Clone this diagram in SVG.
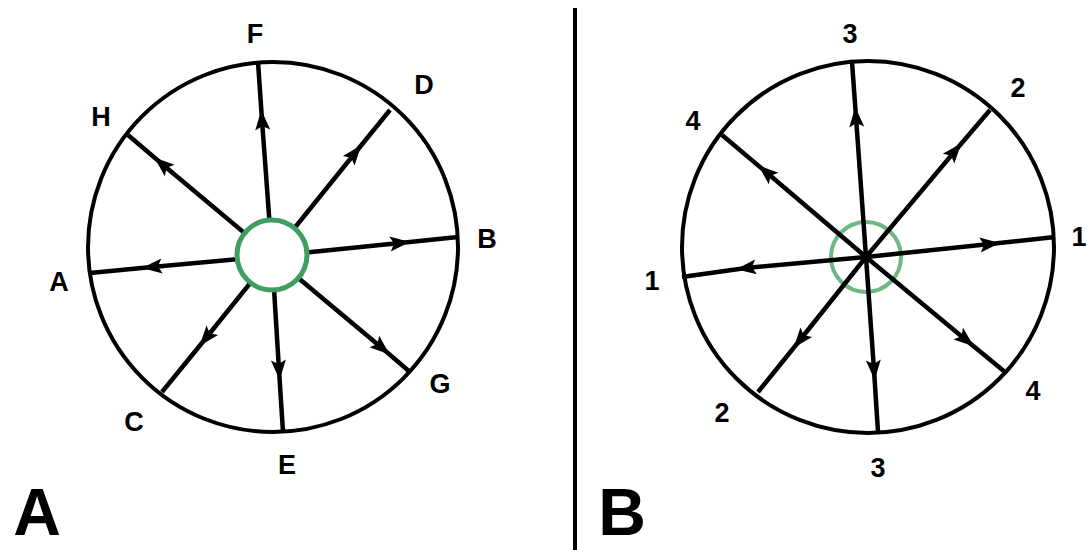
<svg xmlns="http://www.w3.org/2000/svg" width="1087" height="550" viewBox="0 0 1087 550">
<defs>
<marker id="arr" markerUnits="userSpaceOnUse" markerWidth="28" markerHeight="24" viewBox="-14 -12 28 24" refX="0" refY="0" orient="auto">
<path d="M10,0 L-10,-7.5 L-6,0 L-10,7.5 Z" fill="#000"/>
</marker>
</defs>
<style>
.ring{fill:none;stroke:#000;stroke-width:4}
.sp{fill:none;stroke:#000;stroke-width:4.5;marker-mid:url(#arr)}
.lbl{font-family:"Liberation Sans",Arial,sans-serif;font-weight:bold;font-size:27px;fill:#000;text-anchor:middle}
.big{font-family:"Liberation Sans",Arial,sans-serif;font-weight:bold;font-size:66px;fill:#000;text-anchor:middle}
</style>
<rect width="1087" height="550" fill="#fff"/>
<line x1="575" y1="8" x2="575" y2="550" stroke="#000" stroke-width="4"/>

<g id="diagramA">
<circle class="ring" cx="273" cy="247" r="185"/>
<g id="connectorsA">
<path class="sp" d="M272,256 L262,120 L258,62"/>
<path class="sp" d="M272,256 L355,153 L390,110"/>
<path class="sp" d="M272,256 L400,243 L458,237"/>
<path class="sp" d="M272,256 L382,348 L410,372"/>
<path class="sp" d="M272,256 L279,370 L283,432"/>
<path class="sp" d="M272,256 L206,338 L162,392"/>
<path class="sp" d="M272,256 L152,267 L90,273"/>
<path class="sp" d="M272,256 L162,164 L128,135"/>
</g>
<circle id="hubA" cx="272" cy="255" r="35" fill="#fff" stroke="#3f9e5e" stroke-width="5"/>
<g id="labelsA">
<text class="lbl" x="255" y="43">F</text>
<text class="lbl" x="424" y="94">D</text>
<text class="lbl" x="101" y="126">H</text>
<text class="lbl" x="487" y="248">B</text>
<text class="lbl" x="59" y="291">A</text>
<text class="lbl" x="440" y="393">G</text>
<text class="lbl" x="134" y="431">C</text>
<text class="lbl" x="287" y="474">E</text>
</g>
<text class="big" x="37" y="535">A</text>
</g>

<g id="diagramB">
<circle class="ring" cx="868" cy="247" r="186"/>
<circle id="hubB" cx="866" cy="257" r="35" fill="none" stroke="#6db884" stroke-width="4"/>
<g id="connectorsB">
<path class="sp" d="M866,257 L856,117 L852,62"/>
<path class="sp" d="M866,257 L955,151 L990,110"/>
<path class="sp" d="M866,257 L990,244 L1055,237"/>
<path class="sp" d="M866,257 L966,340 L1005,372"/>
<path class="sp" d="M866,257 L874,370 L878,432"/>
<path class="sp" d="M866,257 L800,340 L758,392"/>
<path class="sp" d="M866,257 L746,268 L682,277"/>
<path class="sp" d="M866,257 L766,172 L722,135"/>
</g>
<g id="labelsB">
<text class="lbl" x="850" y="43">3</text>
<text class="lbl" x="1018" y="97">2</text>
<text class="lbl" x="693" y="130">4</text>
<text class="lbl" x="1079" y="246">1</text>
<text class="lbl" x="652" y="290">1</text>
<text class="lbl" x="1033" y="400">4</text>
<text class="lbl" x="722" y="422">2</text>
<text class="lbl" x="878" y="477">3</text>
</g>
<text class="big" x="622" y="535">B</text>
</g>
</svg>
